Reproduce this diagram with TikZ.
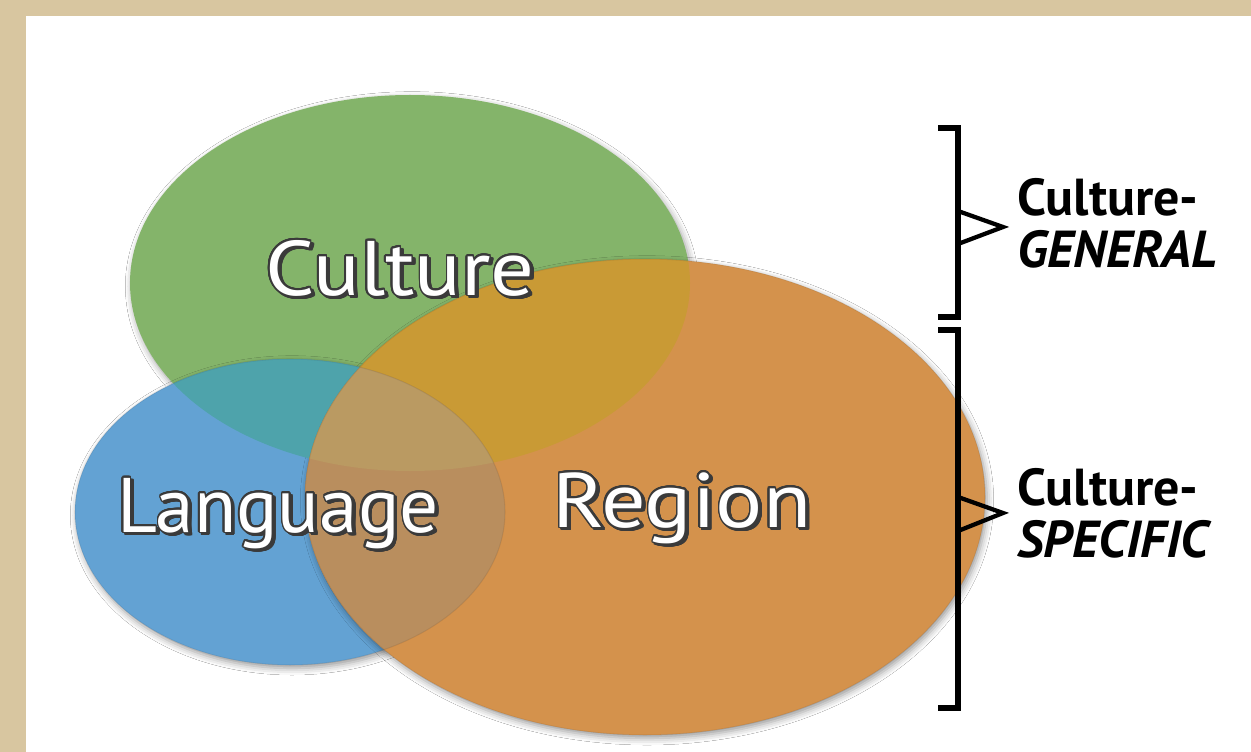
\documentclass[tikz,border=0pt]{standalone}
\usepackage{fontspec}
\setmainfont{PT Sans}
\usepackage[copies]{contour}
\contourlength{1.1pt}
\contournumber{24}
\usetikzlibrary{shadows.blur}
\definecolor{bg}{HTML}{D8C6A0}
\definecolor{cgreen}{HTML}{84B46A}
\definecolor{cblue}{HTML}{63A2D3}
\definecolor{corange}{HTML}{D4924C}
\definecolor{cgo}{HTML}{C99A35}
\definecolor{cgb}{HTML}{4EA3AB}
\definecolor{cbo}{HTML}{B98E5E}
\definecolor{cgbo}{HTML}{BA9A62}
\definecolor{outl}{HTML}{3A3A3A}
\tikzset{
  blob/.style={blur shadow={shadow xshift=1.5pt, shadow yshift=-2.5pt, shadow blur radius=5pt, shadow opacity=40}},
  rim/.style={draw=black, draw opacity=0.07, line width=0.8pt},
  bigtxt/.style={inner sep=0pt, anchor=base, font=\fontsize{58}{60}\selectfont},
  shtxt/.style={bigtxt, text=outl, opacity=0.8},
  sidetxt/.style={inner sep=0pt, anchor=base west, font=\fontsize{39}{42}\selectfont\bfseries},
  brk/.style={line width=4.4pt, line cap=butt, line join=miter},
  tri/.style={line width=3.2pt, line join=miter, miter limit=10}
}
\newcommand{\wl}[2]{\scalebox{#1}[1]{\contour{outl}{#2}}}
\begin{document}
\begin{tikzpicture}[x=0.75pt,y=-0.75pt]
\useasboundingbox (0,0) rectangle (1251,752);
\fill[bg] (0,0) rectangle (1251,752);
\fill[white] (26,16) rectangle (1251,752);
% base ellipses
\fill[cgreen, blob] (410,283) ellipse [x radius=280, y radius=188];
\fill[cblue, blob] (290,512) ellipse [x radius=215, y radius=153];
\fill[corange, blob] (645,497) ellipse [x radius=340, y radius=238];
% overlaps
\begin{scope}
  \clip (410,283) ellipse [x radius=280, y radius=188];
  \fill[cgb] (290,512) ellipse [x radius=215, y radius=153];
  \fill[cgo] (645,497) ellipse [x radius=340, y radius=238];
\end{scope}
\begin{scope}
  \clip (290,512) ellipse [x radius=215, y radius=153];
  \fill[cbo] (645,497) ellipse [x radius=340, y radius=238];
  \clip (410,283) ellipse [x radius=280, y radius=188];
  \fill[cgbo] (645,497) ellipse [x radius=340, y radius=238];
\end{scope}
% rims
\draw[rim] (290,512) ellipse [x radius=215, y radius=153];
\draw[rim] (645,497) ellipse [x radius=340, y radius=238];
% labels in the circles
\node[shtxt] (cultureS) at (402.5,297.5) {\wl{1.12}{Culture}};
\node[bigtxt, text=white] (culture) at (400,295) {\wl{1.12}{Culture}};
\node[shtxt] (languageS) at (280.5,534.5) {\wl{1.0}{Language}};
\node[bigtxt, text=white] (language) at (278,532) {\wl{1.0}{Language}};
\node[shtxt] (regionS) at (684.5,529.5) {\wl{1.14}{Region}};
\node[bigtxt, text=white] (region) at (682,527) {\wl{1.14}{Region}};
% brackets
\coordinate (b1t) at (938,128); \coordinate (b1u) at (958,128);
\coordinate (b1d) at (958,317); \coordinate (b1b) at (938,317);
\coordinate (b2t) at (938,330); \coordinate (b2u) at (958,330);
\coordinate (b2d) at (958,708); \coordinate (b2b) at (938,708);
\draw[brk] (b1t) -- (b1u) -- (b1d) -- (b1b);
\draw[brk] (b2t) -- (b2u) -- (b2d) -- (b2b);
\coordinate (t1a) at (958,211); \coordinate (t1tip) at (1003,227); \coordinate (t1b) at (958,244);
\coordinate (t2a) at (958,497); \coordinate (t2tip) at (1003,513); \coordinate (t2b) at (958,531);
\draw[tri] (t1a) -- (t1tip) -- (t1b);
\draw[tri] (t2a) -- (t2tip) -- (t2b);
% side labels
\node[sidetxt] (cg1) at (1017,215) {Culture-};
\node[sidetxt] (cg2) at (1017,267) {\itshape GENERAL};
\node[sidetxt] (cs1) at (1017,505) {Culture-};
\node[sidetxt] (cs2) at (1017,557) {\itshape SPECIFIC};
\end{tikzpicture}
\end{document}
